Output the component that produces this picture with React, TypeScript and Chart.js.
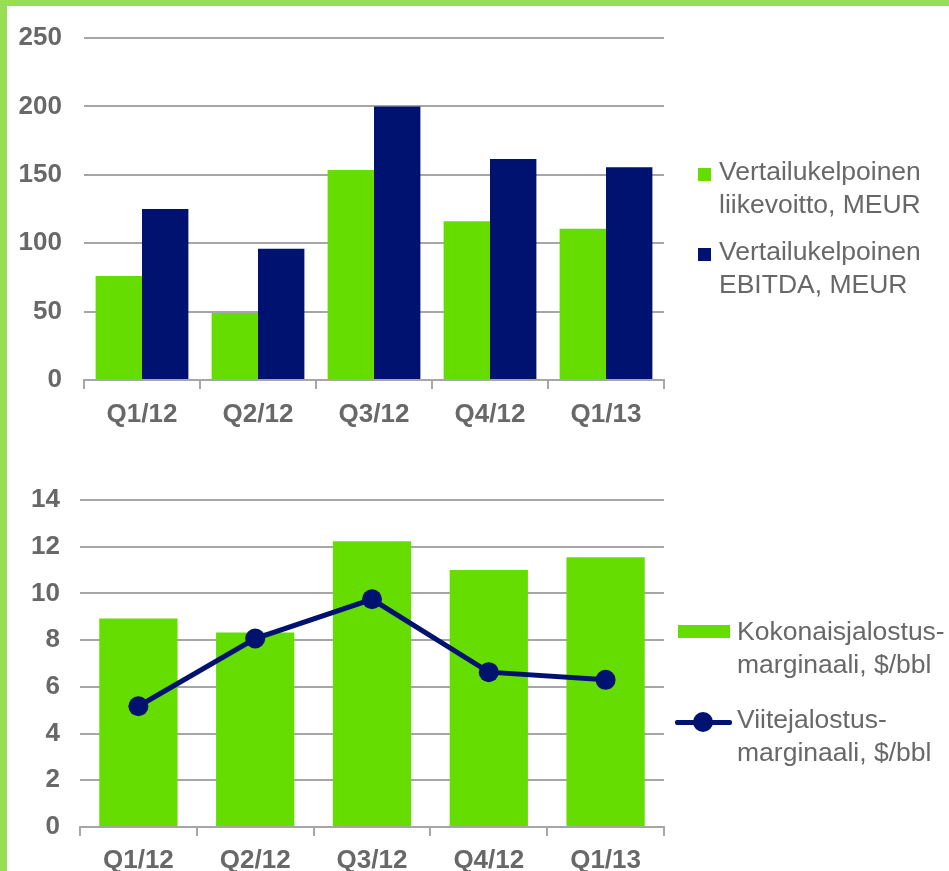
import React, { useEffect, useRef } from "react";
import { Chart, registerables } from "chart.js";

Chart.register(...registerables);

const categories = ["Q1/12", "Q2/12", "Q3/12", "Q4/12", "Q1/13"];
const liikevoitto = [76, 49, 153.5, 116, 110.5];
const ebitda = [125, 96, 200, 161.5, 155.5];
const kokonaisMarginaali = [8.93, 8.33, 12.23, 11.0, 11.55];
const viiteMarginaali = [5.17, 8.07, 9.75, 6.63, 6.3];

const topTicks = { min: 0, max: 250, step: 50 };
const bottomTicks = { min: 0, max: 14, step: 2 };

const GREEN = "#66DD00";
const BLUE = "#001270";
const GRID = "#A6A6A6";
const TEXT = "#686868";
const FONT = "'Liberation Sans', Arial, Helvetica, sans-serif";

function axisOptions(ticks: { min: number; max: number; step: number }, yWidth: number, xHeight: number, yPad: number, xPad: number) {
  return {
    x: {
      offset: true,
      afterFit: (s: any) => { s.height = xHeight; },
      grid: { drawOnChartArea: false, drawTicks: true, tickLength: 9, color: GRID, lineWidth: 2, offset: true },
      border: { display: true, color: GRID, width: 2 },
      ticks: { color: TEXT, font: { family: FONT, size: 26, weight: "bold" }, padding: xPad, maxRotation: 0 },
    },
    y: {
      min: ticks.min,
      max: ticks.max,
      afterFit: (s: any) => { s.width = yWidth; },
      grid: { color: GRID, lineWidth: 2, drawTicks: false },
      border: { display: false },
      ticks: { stepSize: ticks.step, color: TEXT, font: { family: FONT, size: 26, weight: "bold" }, padding: yPad },
    },
  };
}

function TopChart() {
  const ref = useRef<HTMLCanvasElement>(null);
  useEffect(() => {
    const chart = new Chart(ref.current!, {
      type: "bar",
      data: {
        labels: categories,
        datasets: [
          { label: "Vertailukelpoinen liikevoitto, MEUR", data: liikevoitto, backgroundColor: GREEN, categoryPercentage: 0.8, barPercentage: 1 },
          { label: "Vertailukelpoinen EBITDA, MEUR", data: ebitda, backgroundColor: BLUE, categoryPercentage: 0.8, barPercentage: 1 },
        ],
      },
      options: {
        responsive: false,
        animation: false,
        devicePixelRatio: 1,
        layout: { padding: { left: 0, right: 36, top: 38, bottom: 0 } },
        plugins: { legend: { display: false }, tooltip: { enabled: false } },
        scales: axisOptions(topTicks, 84, 60, 22, 10) as any,
      },
    });
    return () => chart.destroy();
  }, []);
  return <canvas ref={ref} width={700} height={440} style={{ position: "absolute", left: 0, top: 0, width: 700, height: 440 }} />;
}

function BottomChart() {
  const ref = useRef<HTMLCanvasElement>(null);
  useEffect(() => {
    const chart = new Chart(ref.current!, {
      type: "bar",
      data: {
        labels: categories,
        datasets: [
          {
            type: "line",
            label: "Viitejalostusmarginaali, $/bbl",
            data: viiteMarginaali,
            borderColor: BLUE,
            backgroundColor: BLUE,
            borderWidth: 5,
            pointRadius: 10,
            pointBackgroundColor: BLUE,
            pointBorderColor: BLUE,
            pointBorderWidth: 0,
            order: 0,
          } as any,
          {
            type: "bar",
            label: "Kokonaisjalostusmarginaali, $/bbl",
            data: kokonaisMarginaali,
            backgroundColor: GREEN,
            categoryPercentage: 1,
            barPercentage: 0.67,
            order: 1,
          },
        ],
      },
      options: {
        responsive: false,
        animation: false,
        devicePixelRatio: 1,
        layout: { padding: { left: 0, right: 36, top: 50, bottom: 0 } },
        plugins: { legend: { display: false }, tooltip: { enabled: false } },
        scales: axisOptions(bottomTicks, 80, 44, 20, 9) as any,
      },
    });
    return () => chart.destroy();
  }, []);
  return <canvas ref={ref} width={700} height={421} style={{ position: "absolute", left: 0, top: 450, width: 700, height: 421 }} />;
}

const legendText: React.CSSProperties = {
  position: "absolute",
  fontFamily: FONT,
  fontSize: 26.5,
  lineHeight: "33px",
  color: TEXT,
  whiteSpace: "nowrap",
};

export default function App() {
  return (
    <div style={{ position: "fixed", left: 0, top: 0, width: 949, height: 871, background: "#fff", overflow: "hidden" }}>
      <div style={{ position: "absolute", left: 0, top: 0, width: 949, height: 6, background: "#98DE55" }} />
      <div style={{ position: "absolute", left: 0, top: 0, width: 7, height: 871, background: "#98DE55" }} />
      <TopChart />
      <BottomChart />

      <div style={{ position: "absolute", left: 698, top: 168, width: 13, height: 13, background: GREEN }} />
      <div style={{ ...legendText, left: 719, top: 155 }}>Vertailukelpoinen<br />liikevoitto, MEUR</div>
      <div style={{ position: "absolute", left: 698, top: 248, width: 13, height: 13, background: BLUE }} />
      <div style={{ ...legendText, left: 719, top: 235 }}>Vertailukelpoinen<br />EBITDA, MEUR</div>

      <div style={{ position: "absolute", left: 678, top: 625, width: 52, height: 13, background: GREEN }} />
      <div style={{ ...legendText, left: 737, top: 615 }}>Kokonaisjalostus-<br />marginaali, $/bbl</div>
      <div style={{ position: "absolute", left: 675, top: 720, width: 57, height: 5, background: BLUE, borderRadius: 2 }} />
      <div style={{ position: "absolute", left: 693, top: 712, width: 20, height: 20, background: BLUE, borderRadius: "50%" }} />
      <div style={{ ...legendText, left: 737, top: 703 }}>Viitejalostus-<br />marginaali, $/bbl</div>
    </div>
  );
}
